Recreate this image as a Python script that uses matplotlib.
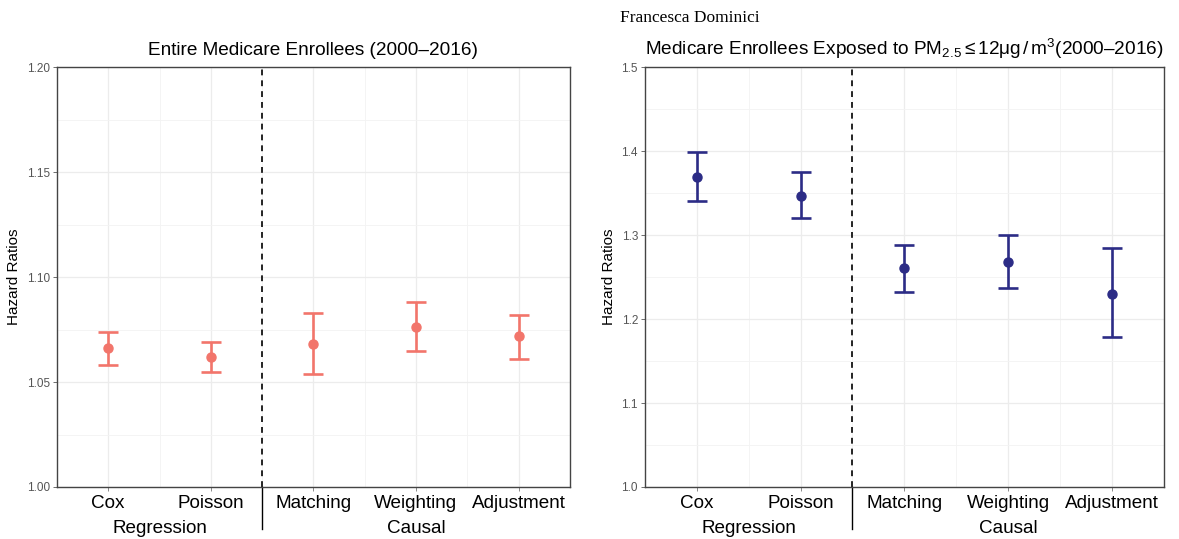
import numpy as np
import matplotlib.pyplot as plt
from matplotlib.transforms import blended_transform_factory

plt.rcParams['font.family'] = ['Liberation Sans', 'DejaVu Sans']
plt.rcParams['mathtext.fontset'] = 'custom'
plt.rcParams['mathtext.rm'] = 'Liberation Sans'
plt.rcParams['mathtext.it'] = 'Liberation Sans:italic'

methods = ['Cox', 'Poisson', 'Matching', 'Weighting', 'Adjustment']
groups = ['Regression', 'Causal']
group_centers = [1.5, 4.0]

# entire Medicare population
hr_all = [1.066, 1.062, 1.068, 1.076, 1.072]
lo_all = [1.058, 1.055, 1.054, 1.065, 1.061]
hi_all = [1.074, 1.069, 1.083, 1.088, 1.082]

# enrollees exposed to low PM2.5
hr_low = [1.369, 1.347, 1.261, 1.268, 1.230]
lo_low = [1.340, 1.320, 1.232, 1.237, 1.179]
hi_low = [1.399, 1.375, 1.288, 1.300, 1.284]

fig = plt.figure(figsize=(11.79, 5.39), dpi=100)
fig.patch.set_facecolor('white')


def panel(rect, hr, lo, hi, color, ylim, yticks, yfmt, title):
    ax = fig.add_axes(rect)
    x = np.arange(1, len(methods) + 1)
    hr = np.array(hr)
    err = [hr - np.array(lo), np.array(hi) - hr]
    ax.errorbar(x, hr, yerr=err, fmt='o', color=color, ms=6.5, lw=1.9,
                capsize=7.5, capthick=1.9, zorder=3)
    ax.set_xlim(0.5, 5.5)
    ax.set_ylim(*ylim)
    ax.set_yticks(yticks)
    ax.set_yticklabels([yfmt.format(v) for v in yticks])
    ax.set_yticks(np.array(yticks[:-1]) + (yticks[1] - yticks[0]) / 2, minor=True)
    ax.set_xticks(x)
    ax.set_xticklabels(methods, fontsize=13.6)
    ax.set_xticks(x[:-1] + 0.5, minor=True)
    ax.grid(True, which='major', color='#ECECEC', lw=0.9)
    ax.grid(True, which='minor', color='#F3F3F3', lw=0.6)
    ax.set_axisbelow(True)
    ax.tick_params(axis='y', labelsize=8.5, labelcolor='#555555', color='#555555',
                   length=3, width=0.6, pad=2)
    ax.tick_params(axis='x', color='#777777', length=3, width=0.6, pad=3)
    ax.tick_params(which='minor', length=0)
    for sp in ax.spines.values():
        sp.set_color('#444444')
        sp.set_linewidth(1.0)
    ax.axvline(2.5, color='black', lw=1.2, ls=(0, (3.5, 3)), zorder=2)
    tr = blended_transform_factory(ax.transData, ax.transAxes)
    ax.plot([2.5, 2.5], [0, -0.1], color='black', lw=1.0, transform=tr, clip_on=False)
    for g, gx in zip(groups, group_centers):
        ax.text(gx, -0.098, g, transform=tr, ha='center', va='center', fontsize=13.6)
    ax.set_ylabel('Hazard Ratios', fontsize=11, labelpad=4)
    ax.set_title(title, fontsize=13.7, pad=9)
    return ax


panel([0.0483, 0.0965, 0.435, 0.779], hr_all, lo_all, hi_all, '#F2756B',
      (1.0, 1.2), [1.00, 1.05, 1.10, 1.15, 1.20], '{:.2f}',
      'Entire Medicare Enrollees (2000\u20132016)')
panel([0.547, 0.0965, 0.440, 0.779], hr_low, lo_low, hi_low, '#2C2C86',
      (1.0, 1.5), [1.0, 1.1, 1.2, 1.3, 1.4, 1.5], '{:.1f}',
      r'Medicare Enrollees Exposed to PM$_{2.5}$$\leq$12$\mathrm{\mu}$g$\,/\,$m$^{3}$'
      + '(2000\u20132016)')

fig.text(0.585, 0.966, 'Francesca Dominici', family='Liberation Serif',
         fontsize=12.5, ha='center', va='center')

fig.savefig('out.png', dpi=100, facecolor='white')
